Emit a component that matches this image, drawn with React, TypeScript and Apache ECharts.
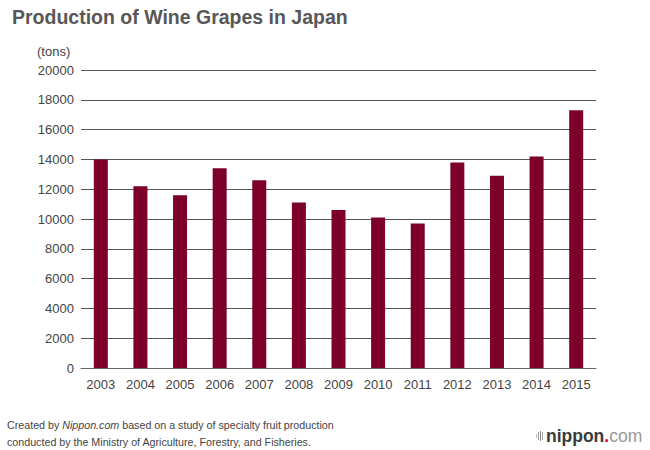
import React, { useEffect, useRef } from "react";
import * as echarts from "echarts";

const years = ["2003", "2004", "2005", "2006", "2007", "2008", "2009", "2010", "2011", "2012", "2013", "2014", "2015"];
const production = [14000, 12200, 11600, 13400, 12600, 11100, 10600, 10100, 9700, 13800, 12900, 14200, 17300];
const titleText = "Production of Wine Grapes in Japan";
const unitText = "(tons)";

export default function App() {
  const ref = useRef<HTMLDivElement>(null);
  useEffect(() => {
    if (!ref.current) return;
    const chart = echarts.init(ref.current, undefined, { renderer: "svg" });
    const font = "'Liberation Sans', Arial, Helvetica, sans-serif";
    chart.setOption({
      animation: false,
      backgroundColor: "#ffffff",
      textStyle: { fontFamily: font },
      title: {
        text: titleText,
        left: 7,
        top: 2,
        textStyle: { fontFamily: font, fontSize: 19.5, fontWeight: "bold", color: "#575757" },
      },
      grid: { left: 81, right: 54, top: 70, bottom: 82, containLabel: false },
      xAxis: {
        type: "category",
        data: years,
        axisLine: { show: true, lineStyle: { color: "#666666", width: 1 } },
        axisTick: { show: false },
        axisLabel: { color: "#444444", fontSize: 13, margin: 10, fontFamily: font },
      },
      yAxis: {
        type: "value",
        min: 0,
        max: 20000,
        interval: 2000,
        axisLine: { show: false },
        axisTick: { show: false },
        axisLabel: { color: "#444444", fontSize: 13, margin: 7, fontFamily: font, formatter: (v: number) => String(v) },
        splitLine: { lineStyle: { color: "#555555", width: 1 } },
      },
      series: [
        {
          type: "bar",
          data: production,
          barWidth: 14,
          itemStyle: { color: "#7d002b" },
        },
      ],
      graphic: [
        {
          type: "text",
          left: 37,
          top: 45,
          style: { text: unitText, fontSize: 13, fill: "#444444", fontFamily: font },
        },
        {
          type: "text",
          left: 7,
          top: 416,
          style: {
            text: "{n|Created by }{i|Nippon.com}{n| based on a study of specialty fruit production}\n{n|conducted by the Ministry of Agriculture, Forestry, and Fisheries.}",
            lineHeight: 17,
            rich: {
              n: { fontSize: 10.7, fill: "#444444", fontFamily: font, lineHeight: 17 },
              i: { fontSize: 10.7, fill: "#444444", fontFamily: font, fontStyle: "italic", lineHeight: 17 },
            },
          },
        },
        { type: "rect", shape: { x: 536, y: 434, width: 1, height: 4 }, style: { fill: "#bbbbbb" } },
        { type: "rect", shape: { x: 538, y: 432, width: 1, height: 8 }, style: { fill: "#999999" } },
        { type: "rect", shape: { x: 540, y: 431, width: 1, height: 10 }, style: { fill: "#888888" } },
        { type: "rect", shape: { x: 542, y: 432, width: 1, height: 8 }, style: { fill: "#aaaaaa" } },
        {
          type: "text",
          left: 546,
          top: 427,
          style: {
            text: "{b|nippon}{r|.}{c|com}",
            rich: {
              b: { fontSize: 17.5, fontWeight: "bold", fill: "#3a3a3a", fontFamily: font },
              r: { fontSize: 17.5, fontWeight: "bold", fill: "#e6002d", fontFamily: font },
              c: { fontSize: 17.5, fill: "#999999", fontFamily: font },
            },
          },
        },
      ],
    });
    return () => chart.dispose();
  }, []);
  return <div ref={ref} style={{ width: 650, height: 450, position: "absolute", left: 0, top: 0 }} />;
}
